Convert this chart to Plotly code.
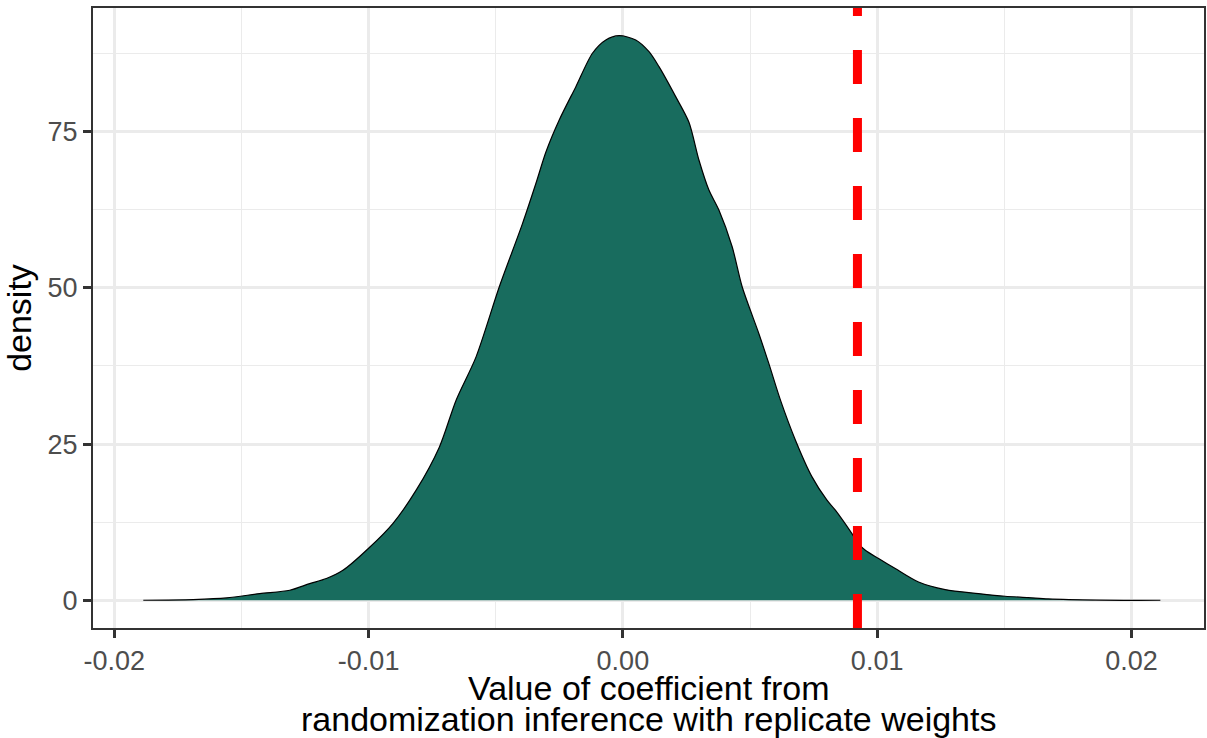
import plotly.graph_objects as go

# Density curve
coef_x = [-0.018862, -0.016899, -0.015588, -0.014281, -0.013103, -0.012318, -0.011662,
          -0.011011, -0.010000, -0.009048, -0.008130, -0.007215, -0.006559,
          -0.005774, -0.004860, -0.003945, -0.003419, -0.003027, -0.002504, -0.001849,
          -0.001197, -0.000671, -0.000149, 0.000506, 0.001028, 0.001421, 0.002077,
          0.002598, 0.002991, 0.003384, 0.003776, 0.004298, 0.004691,
          0.005346, 0.005739, 0.006198, 0.006787, 0.007439, 0.008027, 0.008357,
          0.009009, 0.009270, 0.009535, 0.010057, 0.010713, 0.011627, 0.012675,
          0.013982, 0.015030, 0.015945, 0.016730, 0.018693, 0.021139]
density = [0.0, 0.11, 0.37, 1.07, 1.60, 2.67, 3.48,
           4.80, 8.33, 12.28, 17.62, 24.55, 32.03,
           38.96, 50.18, 60.33, 66.74, 71.75, 76.87, 82.21,
           87.56, 89.69, 90.37, 89.69, 87.81, 85.41, 80.61,
           76.51, 70.47, 65.66, 62.46, 56.58, 50.18,
           42.71, 37.91, 32.03, 25.62, 19.75, 16.02, 14.41,
           10.68, 9.08, 8.01, 6.68, 5.08, 2.93, 1.71,
           1.07, 0.64, 0.43, 0.21, 0.02, 0.0]

observed_coef = 0.009225

x_ticks = [-0.02, -0.01, 0.0, 0.01, 0.02]
x_tick_labels = ["-0.02", "-0.01", "0.00", "0.01", "0.02"]
y_ticks = [0, 25, 50, 75]
y_tick_labels = ["0", "25", "50", "75"]

FONT = "Liberation Sans, Arial, Helvetica, sans-serif"

fig = go.Figure()
fig.add_trace(go.Scatter(
    x=coef_x, y=density, mode="lines", fill="tozeroy",
    fillcolor="#186C5E", line=dict(color="black", width=1.2, shape="spline", smoothing=0.8),
    hoverinfo="skip", showlegend=False,
))

fig.add_shape(type="line", xref="x", yref="paper", x0=observed_coef, x1=observed_coef,
              y0=0, y1=1, line=dict(color="#FF0000", width=9, dash="34px,34px"))

fig.update_layout(
    width=1207, height=738,
    margin=dict(l=93, r=1, t=8, b=110),
    paper_bgcolor="white", plot_bgcolor="white",
    font=dict(family=FONT, size=27, color="#4D4D4D"),
    showlegend=False,
)

axis_common = dict(
    showline=True, linecolor="#333333", linewidth=2, mirror=True,
    ticks="outside", ticklen=8, tickwidth=2.5, tickcolor="#333333",
    showgrid=True, gridcolor="#EBEBEB", gridwidth=2.7, zeroline=False,
    tickfont=dict(family=FONT, size=27, color="#4D4D4D"),
)

fig.update_xaxes(
    range=[-0.02084, 0.022855], tickvals=x_ticks, ticktext=x_tick_labels,
    minor=dict(dtick=0.005, tick0=0, showgrid=True, gridcolor="#EBEBEB", gridwidth=1.4, ticks=""),
    **axis_common,
)
fig.update_yaxes(
    range=[-4.44, 94.8], tickvals=y_ticks, ticktext=y_tick_labels,
    minor=dict(dtick=12.5, tick0=0, showgrid=True, gridcolor="#EBEBEB", gridwidth=1.4, ticks=""),
    title=dict(text="density", font=dict(family=FONT, size=34, color="black"), standoff=14),
    **axis_common,
)

fig.add_annotation(text="Value of coefficient from", xref="paper", yref="paper",
                   x=0.5, y=-0.0975, xanchor="center", yanchor="middle", showarrow=False,
                   font=dict(family=FONT, size=34, color="black"))
fig.add_annotation(text="randomization inference with replicate weights", xref="paper", yref="paper",
                   x=0.5, y=-0.1465, xanchor="center", yanchor="middle", showarrow=False,
                   font=dict(family=FONT, size=34, color="black"))

fig.write_html("out.html")
